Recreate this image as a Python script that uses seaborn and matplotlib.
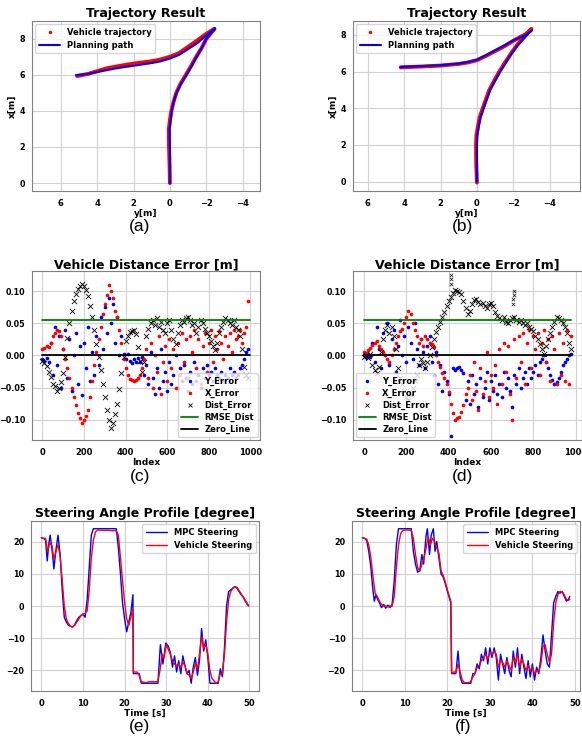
import numpy as np
import pandas as pd
import matplotlib
matplotlib.use("Agg")
import matplotlib.pyplot as plt
import seaborn as sns
from matplotlib.lines import Line2D

# ---------------- (a) / (b) trajectory data: lateral y [m], longitudinal x [m]
plan_a_y = [0, 0, 0, 0.02, -0.05, -0.1, -0.2, -0.37, -0.6, -0.92, -1.2, -1.47, -1.75, -2.0, -2.25, -2.48,
            -2.2, -1.9, -1.5, -0.92, -0.5, 0, 0.5, 1, 2, 3, 3.5, 4, 4.5, 5.17]
plan_a_x = [0, 1, 2, 3, 3.5, 4, 4.5, 5, 5.5, 6, 6.5, 7, 7.5, 8, 8.3, 8.57,
            8.35, 8.1, 7.75, 7.37, 7.1, 6.9, 6.75, 6.65, 6.5, 6.35, 6.25, 6.15, 6.05, 5.98]
veh_a_y = [0, 0.02, 0.05, 0.06, 0.0, -0.08, -0.2, -0.35, -0.58, -0.88, -1.17, -1.45, -1.75, -2.0, -2.25, -2.45,
           -2.2, -1.9, -1.5, -1.0, -0.5, 0, 0.5, 1, 2, 3, 3.5, 4, 4.5, 5.1]
veh_a_x = [0, 1, 2, 3, 3.5, 4, 4.5, 5, 5.5, 6, 6.5, 7, 7.5, 8, 8.3, 8.55,
           8.4, 8.2, 7.9, 7.55, 7.2, 7.0, 6.85, 6.75, 6.62, 6.45, 6.35, 6.2, 6.05, 5.93]

plan_b_y = [0, 0, 0, -0.02, -0.1, -0.2, -0.37, -0.55, -0.73, -1.0, -1.28, -1.6, -1.92, -2.3, -2.75, -3.02,
            -2.7, -2.0, -1.5, -1.0, -0.5, 0, 0.5, 1, 2, 3, 4, 4.21]
plan_b_x = [0, 1, 2, 2.5, 3, 3.5, 4, 4.5, 5, 5.5, 6, 6.5, 7, 7.5, 8, 8.25,
            8.0, 7.71, 7.42, 7.16, 6.9, 6.65, 6.52, 6.44, 6.35, 6.3, 6.27, 6.25]
veh_b_y = [0, 0.04, 0.05, 0.03, -0.05, -0.15, -0.32, -0.5, -0.68, -0.95, -1.23, -1.55, -1.88, -2.25, -2.7, -3.0,
           -2.7, -2.0, -1.5, -1.0, -0.5, 0, 0.5, 1, 2, 3, 4, 4.2]
veh_b_x = [-0.05, 1, 2, 2.5, 3, 3.5, 4, 4.5, 5, 5.5, 6, 6.5, 7, 7.5, 8, 8.33,
           8.05, 7.68, 7.38, 7.12, 6.86, 6.62, 6.5, 6.42, 6.33, 6.28, 6.24, 6.23]

# ---------------- (c) distance error (index 0..990 step 10)
idx_c = list(range(0, 1000, 10))
dist_c = [-0.008, -0.012, -0.016, -0.025, -0.034, -0.045, -0.047, -0.055, -0.050, -0.042,
          -0.028, -0.003, 0.028, 0.050, 0.070, 0.085, 0.096, 0.104, 0.109, 0.112,
          0.108, 0.102, 0.093, 0.078, 0.060, 0.040, 0.018, -0.003, -0.023, -0.045,
          -0.065, -0.085, -0.100, -0.114, -0.106, -0.092, -0.075, -0.052, -0.028, -0.003,
          0.023, 0.030, 0.036, 0.038, 0.040, 0.034, 0.013, -0.008, -0.025, -0.010,
          0.030, 0.042, 0.050, 0.055, 0.048, 0.058, 0.045, 0.052, 0.040, 0.035,
          0.050, 0.055, 0.040, 0.025, 0.018, 0.035, 0.048, 0.055, 0.052, 0.058,
          0.060, 0.055, 0.048, 0.050, 0.035, 0.045, 0.055, 0.050, 0.042, 0.035,
          0.030, 0.022, 0.015, 0.008, 0.020, 0.035, 0.045, 0.052, 0.058, 0.055,
          0.050, 0.048, 0.055, 0.045, 0.040, 0.030, 0.010, -0.018, -0.030, -0.035]
yerr_c = [-0.005, -0.008, -0.004, -0.010, 0.020, -0.030, 0.045, -0.015, 0.030, -0.050,
          0.010, 0.040, -0.035, 0.025, -0.055, 0.000, 0.035, -0.045, 0.015, -0.062,
          0.020, -0.020, 0.045, -0.040, 0.005, -0.030, 0.030, -0.015, 0.060, 0.010,
          0.075, 0.035, 0.090, 0.050, 0.080, 0.020, 0.060, 0.000, 0.030, 0.002,
          -0.005, 0.003, -0.008, -0.012, -0.006, -0.010, -0.004, -0.010, -0.002, -0.030,
          -0.015, -0.045, 0.005, -0.035, -0.060, -0.020, -0.050, 0.010, -0.040, -0.025,
          -0.055, -0.010, -0.045, -0.030, 0.000, -0.050, -0.020, -0.040, -0.015, -0.035,
          -0.055, -0.025, -0.045, -0.010, -0.040, -0.030, -0.050, -0.020, -0.035, -0.015,
          -0.030, -0.025, -0.040, -0.020, -0.030, -0.035, -0.025, -0.040, -0.030, -0.035,
          -0.020, -0.030, -0.025, -0.035, -0.030, -0.020, -0.015, -0.005, 0.005, 0.010]
xerr_c = [0.010, 0.012, 0.015, 0.013, 0.020, 0.030, 0.035, 0.040, 0.038, 0.030,
          0.010, -0.005, -0.020, -0.035, -0.050, -0.065, -0.078, -0.090, -0.098, -0.105,
          -0.100, -0.095, -0.085, -0.065, -0.040, -0.015, 0.005, 0.025, 0.045, 0.065,
          0.080, 0.095, 0.110, 0.100, 0.090, 0.070, 0.060, 0.040, 0.020, -0.005,
          -0.020, -0.030, -0.036, -0.038, -0.040, -0.038, -0.035, -0.030, -0.020, -0.005,
          0.010, -0.035, 0.020, -0.050, 0.000, -0.025, 0.030, -0.060, -0.010, 0.015,
          -0.040, 0.025, -0.020, 0.010, -0.050, 0.020, -0.030, 0.035, -0.010, 0.025,
          -0.035, 0.030, 0.005, 0.040, -0.020, 0.025, -0.045, 0.015, 0.035, -0.025,
          0.020, 0.040, -0.010, 0.030, 0.010, 0.038, 0.020, -0.005, 0.030, 0.015,
          0.035, 0.005, 0.040, 0.025, 0.030, 0.040, 0.020, 0.035, 0.045, 0.085]
rmse_c = 0.056
span_c = [0, 1000]

# ---------------- (d) distance error (index 0..980 step 10)
idx_d = list(range(0, 990, 10))
dist_d = [-0.002, 0.000, -0.004, 0.003, -0.015, -0.022, -0.028, -0.018, 0.005, 0.025,
          0.040, 0.048, 0.035, 0.045, 0.030, 0.010, -0.020, -0.035, -0.045, -0.055,
          -0.065, -0.070, -0.062, -0.050, -0.040, -0.030, -0.015, -0.005, -0.012, -0.020,
          -0.010, 0.000, 0.014, 0.025, 0.036, 0.045, 0.052, 0.060, 0.068, 0.077,
          0.085, 0.092, 0.098, 0.102, 0.101, 0.099, 0.096, 0.085, 0.074, 0.065,
          0.070, 0.080, 0.087, 0.089, 0.084, 0.080, 0.082, 0.078, 0.074, 0.080,
          0.082, 0.078, 0.068, 0.062, 0.058, 0.055, 0.060, 0.052, 0.050, 0.056,
          0.058, 0.060, 0.055, 0.052, 0.056, 0.050, 0.048, 0.050, 0.045, 0.042,
          0.038, 0.030, 0.025, 0.018, 0.010, 0.003, 0.015, 0.025, 0.035, 0.045,
          0.052, 0.060, 0.058, 0.055, 0.050, 0.045, 0.035, 0.020, 0.010]
spike_idx_d = [410, 410, 412, 705, 705, 707, 707]
spike_dist_d = [0.112, 0.120, 0.125, 0.080, 0.088, 0.094, 0.100]
yerr_d = [0.000, -0.003, 0.002, -0.002, 0.020, -0.010, 0.045, 0.010, -0.020, 0.035,
          0.000, 0.050, -0.015, 0.025, 0.040, -0.025, 0.015, 0.055, 0.000, 0.030,
          -0.010, 0.045, 0.020, -0.005, 0.050, 0.010, -0.015, 0.025, 0.005, -0.020,
          0.015, 0.030, -0.010, -0.030, 0.005, -0.045, -0.015, -0.055, -0.025, -0.040,
          -0.060, -0.125, -0.020, -0.022, -0.020, -0.018, -0.022, -0.028, -0.070, -0.040,
          -0.075, -0.030, -0.060, -0.045, -0.080, -0.035, -0.065, -0.050, -0.025, -0.070,
          -0.040, -0.055, -0.030, -0.060, -0.045, -0.065, -0.025, -0.050, -0.035, -0.055,
          -0.080, -0.030, -0.045, -0.020, -0.050, -0.035, -0.025, -0.045, -0.020, -0.035,
          -0.025, -0.015, -0.030, -0.010, -0.005, 0.000, -0.010, -0.020, -0.030, -0.038,
          -0.045, -0.042, -0.035, -0.025, -0.015, -0.010, -0.005, 0.000, 0.002]
xerr_d = [0.005, 0.004, 0.008, 0.012, 0.016, 0.020, 0.022, 0.015, 0.010, 0.005,
          0.000, -0.005, -0.010, 0.000, 0.010, 0.020, 0.030, 0.038, 0.041, 0.050,
          0.060, 0.070, 0.065, 0.050, 0.040, 0.030, 0.020, 0.025, 0.015, 0.030,
          0.025, 0.020, 0.018, 0.014, 0.000, -0.010, -0.018, -0.028, -0.035, -0.045,
          -0.057, -0.075, -0.090, -0.100, -0.098, -0.096, -0.088, -0.078, -0.060, -0.050,
          -0.030, -0.070, -0.010, -0.055, -0.085, -0.020, -0.060, -0.040, 0.005, -0.065,
          -0.030, -0.050, -0.015, -0.075, 0.010, -0.045, 0.020, -0.025, 0.015, -0.060,
          -0.100, 0.025, -0.035, 0.030, -0.010, 0.035, -0.045, 0.020, 0.040, -0.020,
          0.030, 0.010, 0.035, -0.030, 0.020, 0.040, -0.010, 0.025, -0.040, 0.030,
          0.010, -0.045, 0.035, -0.030, 0.020, -0.040, 0.040, -0.045, 0.030]
rmse_d = 0.056
span_d = [0, 980]

# ---------------- (e) steering [degree]
t_mpc_e = [0.0, 0.5, 1.0, 1.4, 1.8, 2.1, 2.6, 3.0, 3.5, 4.0, 4.5, 5.0, 5.5, 6.0, 6.5, 7.0, 7.5, 8.0, 8.5, 9.0,
           9.5, 10.0, 10.5, 11.0, 11.5, 12.0, 12.5, 13.0, 14.0, 15.0, 16.0, 17.0, 18.0, 18.5, 19.0, 19.5, 20.0, 20.5, 21.0, 21.5,
           22.0, 22.1, 23.0, 23.5, 24.0, 25.0, 26.0, 27.0, 28.0, 28.6, 29.2, 29.9, 30.5, 31.0, 31.5, 32.0, 32.5, 33.0, 33.5, 34.0,
           34.5, 35.0, 35.5, 36.0, 36.5, 37.0, 37.5, 38.0, 38.5, 39.0, 39.5, 40.0, 40.5, 41.0, 42.0, 42.5, 43.0, 43.5, 44.0, 44.5,
           45.0, 45.5, 46.0, 46.5, 47.0, 47.5, 48.0, 48.5, 49.0, 49.5, 49.8]
mpc_e = [21.2, 21.0, 20.5, 14.0, 19.5, 22.0, 17.0, 11.5, 17.5, 22.0, 16.0, 5.0, -3.5, -5.0, -6.0, -6.3, -6.5, -5.8, -4.5, -3.5,
         -3.0, -2.5, -3.5, 2.0, 12.0, 22.0, 24.0, 24.0, 24.0, 24.0, 24.0, 24.0, 24.0, 18.0, 10.0, 1.0, -4.0, -8.0, -5.0, -2.0,
         3.5, -21.0, -21.0, -21.0, -24.0, -24.0, -24.0, -24.0, -24.0, -12.0, -18.0, -11.5, -12.5, -14.5, -19.0, -15.5, -20.5, -17.0, -21.0, -15.5,
         -18.5, -21.0, -20.0, -24.0, -19.0, -16.0, -21.5, -17.0, -7.0, -14.0, -10.5, -16.0, -24.0, -24.0, -24.0, -24.0, -19.5, -22.0, -13.0, 0.0,
         4.5, 5.0, 5.5, 6.0, 5.5, 4.5, 3.5, 2.8, 1.5, 0.5, 0.0]
t_veh_e = [0.0, 0.5, 1.0, 1.5, 2.0, 2.5, 3.0, 3.5, 4.0, 4.5, 5.0, 5.5, 6.0, 6.5, 7.0, 7.5, 8.0, 8.5, 9.0, 9.5,
           10.0, 10.5, 11.0, 11.5, 12.0, 12.5, 13.0, 13.5, 15.0, 16.0, 17.0, 18.0, 18.5, 19.0, 19.5, 20.0, 20.5, 21.0, 21.5, 22.0,
           22.1, 23.0, 23.5, 24.0, 25.0, 26.0, 27.0, 28.0, 28.5, 29.0, 29.5, 30.0, 30.5, 31.0, 31.5, 32.0, 32.5, 33.0, 33.5, 34.0,
           34.5, 35.0, 35.5, 36.0, 36.5, 37.0, 37.5, 38.0, 38.5, 39.0, 39.5, 40.0, 40.5, 41.0, 42.0, 42.5, 43.0, 43.5, 44.0, 44.5,
           45.0, 45.5, 46.0, 46.5, 47.0, 47.5, 48.0, 48.5, 49.0, 49.5, 49.8]
veh_e = [21.2, 21.0, 21.0, 17.0, 19.5, 19.0, 14.5, 17.0, 19.0, 15.5, 8.0, 0.0, -4.0, -5.5, -6.3, -6.5, -6.0, -5.0, -4.0, -3.0,
         -2.5, -2.3, -1.5, 5.0, 15.0, 20.5, 23.0, 23.6, 23.5, 23.5, 23.4, 23.4, 22.0, 15.0, 8.0, 1.0, -4.0, -6.0, -3.5, -1.0,
         -20.5, -20.5, -21.5, -23.5, -23.8, -23.5, -23.5, -23.5, -20.0, -15.0, -16.0, -12.0, -13.5, -15.0, -17.0, -18.0, -18.5, -18.0, -19.0, -17.5,
         -18.5, -21.0, -21.5, -22.5, -20.5, -18.0, -19.5, -15.0, -9.5, -13.0, -12.0, -15.0, -20.0, -22.5, -24.0, -23.5, -21.0, -21.0, -15.0, -5.0,
         2.0, 4.5, 5.5, 6.0, 5.8, 4.8, 3.8, 2.8, 1.8, 0.8, 0.2]

# ---------------- (f) steering [degree]
t_mpc_f = [0.0, 0.5, 1.0, 1.5, 2.0, 2.4, 2.8, 3.2, 3.6, 4.0, 4.5, 5.0, 5.5, 6.0, 6.5, 7.0, 7.5, 8.0, 8.5, 9.5,
           10.5, 11.5, 12.0, 12.5, 13.0, 13.5, 14.0, 14.4, 15.0, 15.3, 15.8, 16.2, 16.7, 17.1, 17.5, 18.0, 18.5, 19.0, 19.5, 20.0,
           20.8, 21.0, 21.5, 22.0, 22.5, 23.0, 23.5, 24.5, 25.5, 26.0, 26.5, 27.0, 27.5, 28.0, 28.5, 29.0, 29.5, 30.0, 30.5, 31.0,
           31.5, 32.0, 32.5, 33.0, 33.5, 34.0, 34.5, 35.0, 35.5, 36.0, 36.5, 37.0, 37.5, 38.0, 38.5, 39.0, 39.5, 40.0, 40.5, 41.0,
           41.5, 42.0, 42.5, 43.0, 43.5, 44.0, 44.5, 45.0, 45.5, 46.0, 46.5, 47.0, 47.5, 48.0, 48.5, 48.8]
mpc_f = [21.2, 21.0, 20.5, 17.0, 12.0, 6.0, 1.5, 3.5, 2.0, 1.0, -0.5, 0.5, -0.7, 0.3, -0.5, 0.5, 8.0, 19.0, 24.0, 24.0,
         24.0, 24.0, 17.0, 13.0, 10.5, 11.0, 16.0, 13.0, 22.0, 24.0, 16.0, 22.0, 24.0, 17.0, 20.0, 15.0, 10.0, 9.0, 7.0, 4.5,
         1.0, -21.0, -21.0, -21.0, -14.0, -22.0, -24.0, -24.0, -24.0, -21.0, -21.0, -18.0, -19.5, -15.0, -17.0, -13.0, -18.0, -13.0, -16.0, -13.0,
         -16.0, -23.0, -15.0, -18.0, -21.0, -16.0, -20.0, -22.0, -14.0, -19.0, -13.0, -21.0, -15.0, -19.0, -22.5, -17.0, -22.0, -18.0, -23.0, -19.0,
         -21.0, -16.0, -9.0, -14.0, -18.0, -19.0, -9.0, 1.0, 3.0, 4.5, 4.0, 4.5, 3.0, 1.5, 2.0, 3.0]
t_veh_f = [0.0, 0.5, 1.0, 1.5, 2.0, 2.5, 3.0, 3.5, 4.0, 4.5, 5.0, 5.5, 6.0, 6.5, 7.0, 7.5, 8.0, 8.5, 9.0, 9.5,
           10.5, 11.5, 12.0, 12.5, 13.0, 13.5, 14.0, 14.5, 15.0, 15.5, 16.0, 16.5, 17.0, 17.5, 18.0, 18.5, 19.0, 19.5, 20.0, 20.8,
           21.0, 21.5, 22.0, 22.5, 23.0, 23.5, 24.0, 25.0, 25.5, 26.0, 26.5, 27.0, 27.5, 28.0, 28.5, 29.0, 29.5, 30.0, 30.5, 31.0,
           31.5, 32.0, 32.5, 33.0, 33.5, 34.0, 34.5, 35.0, 35.5, 36.0, 36.5, 37.0, 37.5, 38.0, 38.5, 39.0, 39.5, 40.0, 40.5, 41.0,
           41.5, 42.0, 42.5, 43.0, 43.5, 44.0, 44.5, 45.0, 45.5, 46.0, 46.5, 47.0, 47.5, 48.0, 48.5, 48.8]
veh_f = [21.2, 21.0, 20.8, 19.0, 15.0, 9.0, 4.0, 3.0, 1.5, 0.5, 0.0, 0.0, -0.3, 0.0, 0.0, 3.0, 12.0, 19.0, 22.5, 23.5,
         23.6, 23.5, 21.0, 16.0, 12.0, 10.8, 13.0, 15.0, 18.0, 21.5, 19.0, 21.0, 20.0, 18.0, 16.5, 11.0, 9.5, 7.5, 5.0, 1.5,
         -21.0, -20.5, -20.5, -18.0, -20.5, -23.0, -23.8, -23.8, -23.5, -22.0, -21.0, -19.0, -18.5, -17.0, -16.0, -15.0, -16.5, -14.5, -15.0, -14.0,
         -15.0, -19.0, -17.0, -17.5, -19.0, -17.0, -18.5, -20.0, -16.0, -17.5, -15.0, -19.0, -16.5, -18.0, -20.0, -18.5, -20.0, -19.0, -21.0, -20.0,
         -20.5, -18.0, -12.5, -12.0, -15.0, -17.5, -15.0, -5.0, 1.0, 3.5, 4.5, 4.5, 3.5, 2.0, 1.8, 2.0]

# ---------------- style
sns.set_style("whitegrid", {"axes.edgecolor": "0.5", "grid.color": "0.82",
                            "axes.linewidth": 0.8, "grid.linewidth": 0.8})
plt.rcParams["font.family"] = ["DejaVu Sans"]
plt.rcParams["font.weight"] = "bold"
plt.rcParams["axes.titleweight"] = "bold"
plt.rcParams["axes.labelweight"] = "bold"
for k in ["text.color", "axes.labelcolor", "xtick.color", "ytick.color"]:
    plt.rcParams[k] = "black"
plt.rcParams["xtick.labelsize"] = 6
plt.rcParams["ytick.labelsize"] = 5.8
plt.rcParams["axes.labelsize"] = 6.5
plt.rcParams["axes.titlesize"] = 9
plt.rcParams["legend.fontsize"] = 6
plt.rcParams["xtick.major.pad"] = 2
plt.rcParams["ytick.major.pad"] = 1.2

W, H = 582, 739
fig = plt.figure(figsize=(W / 100, H / 100), dpi=100)


def box(l, t, r, b):
    return fig.add_axes([l / W, 1 - b / H, (r - l) / W, (b - t) / H])


def traj(ax, py, px, vy, vx, xlim, ylim):
    sns.lineplot(x=vy, y=vx, sort=False, estimator=None, color="r", lw=2.8, ax=ax)
    sns.lineplot(x=py, y=px, sort=False, estimator=None, color="b", lw=1.5, ax=ax)
    ax.set_xlim(*xlim)
    ax.set_ylim(*ylim)
    ax.set_xticks([6, 4, 2, 0, -2, -4])
    ax.set_yticks([0, 2, 4, 6, 8])
    ax.set_title("Trajectory Result", pad=3)
    ax.set_xlabel("y[m]", labelpad=1)
    ax.set_ylabel("x[m]", labelpad=2)
    handles = [Line2D([], [], color="r", marker=".", ls="none", markersize=3),
               Line2D([], [], color="b", lw=1.5)]
    ax.legend(handles, ["Vehicle trajectory", "Planning path"], loc="upper left",
              frameon=True, borderaxespad=0.4, handlelength=2.6)


def dist_err(ax, idx, yerr, xerr, dist, rmse, span, loc, xlim, extra=None):
    sns.scatterplot(x=idx, y=yerr, color="b", s=7, linewidth=0, ax=ax)
    sns.scatterplot(x=idx, y=xerr, color="r", s=7, linewidth=0, ax=ax)
    sns.scatterplot(x=idx, y=dist, color="k", marker="x", s=14, linewidth=0.6, ax=ax)
    if extra is not None:
        sns.scatterplot(x=extra[0], y=extra[1], color="k", marker="x", s=6, linewidth=0.5, ax=ax)
    sns.lineplot(x=span, y=[rmse, rmse], color="g", lw=1.3, ax=ax)
    sns.lineplot(x=span, y=[0, 0], color="k", lw=1.3, ax=ax)
    ax.set_xlim(*xlim)
    ax.set_ylim(-0.132, 0.132)
    ax.set_xticks([0, 200, 400, 600, 800, 1000])
    ax.set_yticks([-0.10, -0.05, 0.0, 0.05, 0.10])
    ax.set_title("Vehicle Distance Error [m]", pad=2)
    ax.set_xlabel("Index", labelpad=1)
    ax.set_ylabel("")
    handles = [Line2D([], [], color="b", marker=".", ls="none", markersize=3),
               Line2D([], [], color="r", marker=".", ls="none", markersize=3),
               Line2D([], [], color="k", marker="x", ls="none", markersize=3, mew=0.6),
               Line2D([], [], color="g", lw=1.3),
               Line2D([], [], color="k", lw=1.3)]
    ax.legend(handles, ["Y_Error", "X_Error", "Dist_Error", "RMSE_Dist", "Zero_Line"],
              loc=loc, frameon=True, borderaxespad=0.3, labelspacing=0.35)


def steer(ax, tm, m, tv, v, xlim):
    sns.lineplot(x=tm, y=m, color="b", lw=1.0, ax=ax, estimator=None, label="MPC Steering")
    sns.lineplot(x=tv, y=v, color="r", lw=1.0, ax=ax, estimator=None, label="Vehicle Steering")
    ax.set_xlim(*xlim)
    ax.set_ylim(-26.4, 26.4)
    ax.set_xticks([0, 10, 20, 30, 40, 50])
    ax.set_yticks([-20, -10, 0, 10, 20])
    ax.set_title("Steering Angle Profile [degree]", pad=3)
    ax.set_xlabel("Time [s]", labelpad=1)
    ax.set_ylabel("")
    ax.legend(loc="upper right", frameon=True, borderaxespad=0.4, handlelength=2.6)


ax_a = box(32, 21, 260, 191)
traj(ax_a, plan_a_y, plan_a_x, veh_a_y, veh_a_x, (7.58, -4.95), (-0.44, 8.98))
ax_b = box(353, 21, 580, 191)
traj(ax_b, plan_b_y, plan_b_x, veh_b_y, veh_b_x, (6.82, -5.67), (-0.51, 8.76))

ax_c = box(32, 271, 260, 440)
dist_err(ax_c, idx_c, yerr_c, xerr_c, dist_c, rmse_c, span_c, "lower right", (-50, 1046))
ax_d = box(353, 271, 582, 440)
dist_err(ax_d, idx_d, yerr_d, xerr_d, dist_d, rmse_d, span_d, "lower left", (-52, 1030),
         extra=(spike_idx_d, spike_dist_d))

ax_e = box(31, 521, 259, 691)
steer(ax_e, t_mpc_e, mpc_e, t_veh_e, veh_e, (-2.5, 52.3))
ax_f = box(352, 521, 580, 691)
steer(ax_f, t_mpc_f, mpc_f, t_veh_f, veh_f, (-2.44, 51.2))

for lab, x, y in [("(a)", 140, 226), ("(b)", 463, 226), ("(c)", 140, 477),
                  ("(d)", 463, 477), ("(e)", 140, 726), ("(f)", 463, 726)]:
    fig.text(x / W, 1 - y / H, lab, ha="center", va="center", fontsize=12.5,
             fontweight="normal", family=["Liberation Sans", "DejaVu Sans"])

fig.savefig("out.png", dpi=100)
